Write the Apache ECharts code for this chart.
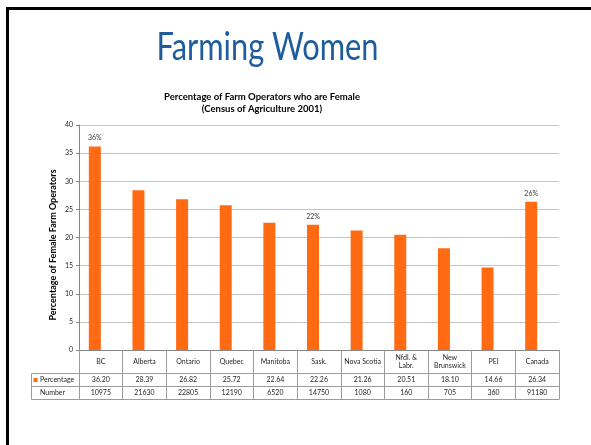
<!DOCTYPE html>
<html>
<head>
<meta charset="utf-8">
<title>Farming Women</title>
<script src="https://cdn.jsdelivr.net/npm/echarts@6/dist/echarts.min.js"></script>
<style>
  html, body { margin: 0; padding: 0; background: #ffffff; }
  #chart { width: 591px; height: 445px; }
</style>
</head>
<body>
<div id="chart"></div>
<script>
// Census of Agriculture 2001: share of farm operators who are female
const categories = ['BC', 'Alberta', 'Ontario', 'Quebec', 'Manitoba', 'Sask.', 'Nova Scotia', 'Nfdl. &\nLabr.', 'New\nBrunswick', 'PEI', 'Canada'];
const percentage = [36.20, 28.39, 26.82, 25.72, 22.64, 22.26, 21.26, 20.51, 18.10, 14.66, 26.34];
const numberOfOperators = [10975, 21630, 22805, 12190, 6520, 14750, 1080, 160, 705, 360, 91180];
const labelledBars = [0, 5, 10];
const yMin = 0, yMax = 40, yStep = 5;

const seriesNames = ['Percentage', 'Number'];
const mainTitle = 'Farming Women';
const chartTitle = 'Percentage of Farm Operators who are Female\n(Census of Agriculture 2001)';
const yName = 'Percentage of Female Farm Operators';

const FONT = 'Lato, "Open Sans", sans-serif';
const BAR = '#FF6A13';
const TEXT = '#262626';
const LINE = '#9b9b9b';

// plot area and table geometry
const G = { left: 79, right: 559, top: 125, bottom: 350 };
const rowY = { header: 361.5, pct: 380, num: 393 };
const tableLines = [373.5, 386.5, 399.5];
const tableLeft = 31.5;

const chart = echarts.init(document.getElementById('chart'), null, { renderer: 'canvas' });

const pctData = percentage.map((v, i) => labelledBars.includes(i)
  ? { value: v, label: { show: true } }
  : v);

const rowAxis = (margin, fmt) => ({
  type: 'category',
  data: categories,
  position: 'bottom',
  gridIndex: 0,
  axisLine: { show: false },
  axisTick: { show: false },
  splitLine: { show: false },
  axisLabel: {
    interval: 0, margin: margin, verticalAlign: 'middle',
    fontFamily: FONT, fontSize: 7, color: TEXT,
    formatter: fmt
  }
});

const graphics = [
  // slide frame
  { type: 'rect', shape: { x: 6, y: 7, width: 585, height: 3 }, style: { fill: '#000' }, silent: true },
  { type: 'rect', shape: { x: 6, y: 7, width: 3, height: 438 }, style: { fill: '#000' }, silent: true },
  // slide heading (condensed horizontally)
  {
    type: 'text', x: 267.5, y: 47.5, scaleX: 0.79, silent: true,
    style: {
      text: mainTitle, fontFamily: FONT, fontSize: 39, fontWeight: 'normal',
      fill: '#1E5C9B', align: 'center', verticalAlign: 'middle'
    }
  },
  // value axis title
  {
    type: 'text', x: 52.7, y: 245, rotation: Math.PI / 2, silent: true,
    style: {
      text: yName, fontFamily: FONT, fontSize: 9, fontWeight: 'bold',
      fill: '#000', align: 'center', verticalAlign: 'middle'
    }
  },
  // data table rules
  { type: 'line', shape: { x1: tableLeft, y1: tableLines[0], x2: G.right, y2: tableLines[0] }, style: { stroke: LINE, lineWidth: 1 }, silent: true },
  { type: 'line', shape: { x1: tableLeft, y1: tableLines[1], x2: G.right, y2: tableLines[1] }, style: { stroke: LINE, lineWidth: 1 }, silent: true },
  { type: 'line', shape: { x1: tableLeft, y1: tableLines[2], x2: G.right, y2: tableLines[2] }, style: { stroke: LINE, lineWidth: 1 }, silent: true },
  { type: 'line', shape: { x1: tableLeft, y1: tableLines[0], x2: tableLeft, y2: tableLines[2] }, style: { stroke: LINE, lineWidth: 1 }, silent: true },
  // row headers
  { type: 'rect', shape: { x: 33.5, y: rowY.pct - 2, width: 4, height: 4 }, style: { fill: BAR }, silent: true },
  {
    type: 'text', x: 40, y: rowY.pct, silent: true,
    style: { text: seriesNames[0], fontFamily: FONT, fontSize: 7, fill: TEXT, align: 'left', verticalAlign: 'middle' }
  },
  {
    type: 'text', x: 40, y: rowY.num, silent: true,
    style: { text: seriesNames[1], fontFamily: FONT, fontSize: 7, fill: TEXT, align: 'left', verticalAlign: 'middle' }
  }
];

chart.setOption({
  backgroundColor: '#ffffff',
  animation: false,
  textStyle: { fontFamily: FONT },
  title: {
    text: chartTitle,
    left: 262, top: 90.5, textAlign: 'center', padding: 0,
    textStyle: { fontFamily: FONT, fontSize: 9.5, fontWeight: 'bold', color: '#000', lineHeight: 12.6 }
  },
  grid: { left: G.left, right: 591 - G.right, top: G.top, bottom: 445 - G.bottom, containLabel: false },
  xAxis: [
    {
      type: 'category',
      data: categories,
      position: 'bottom',
      boundaryGap: true,
      axisLine: { show: true, lineStyle: { color: '#868686', width: 1 } },
      axisTick: { show: true, length: tableLines[2] - G.bottom, lineStyle: { color: LINE, width: 1 } },
      splitLine: { show: false },
      axisLabel: {
        interval: 0, margin: rowY.header - G.bottom, verticalAlign: 'middle',
        fontFamily: FONT, fontSize: 7, lineHeight: 8.5, color: TEXT
      }
    },
    rowAxis(rowY.pct - G.bottom, (v, i) => percentage[i].toFixed(2)),
    rowAxis(rowY.num - G.bottom, (v, i) => String(numberOfOperators[i]))
  ],
  yAxis: [
    {
      type: 'value',
      min: yMin, max: yMax, interval: yStep,
      axisLine: { show: true, lineStyle: { color: '#868686', width: 1 } },
      axisTick: { show: true, length: 3, lineStyle: { color: '#868686' } },
      axisLabel: { fontFamily: FONT, fontSize: 7, color: TEXT, margin: 6 },
      splitLine: { show: true, lineStyle: { color: '#c4c4c4', width: 1 } }
    },
    {
      type: 'value', show: false, min: 0, max: 100000,
      splitLine: { show: false }
    }
  ],
  series: [
    {
      name: seriesNames[0],
      type: 'bar',
      xAxisIndex: 0, yAxisIndex: 0,
      data: pctData,
      barWidth: 12,
      barGap: '0%',
      itemStyle: { color: BAR },
      label: {
        show: false, position: 'top', distance: 5,
        fontFamily: FONT, fontSize: 7, color: '#404040',
        formatter: p => Math.round(p.value) + '%'
      }
    },
    {
      // operator counts share the cluster but stay unfilled, as in the source layout
      name: seriesNames[1],
      type: 'bar',
      xAxisIndex: 0, yAxisIndex: 1,
      data: numberOfOperators,
      barWidth: 12,
      barGap: '0%',
      silent: true,
      itemStyle: { color: 'rgba(0,0,0,0)' },
      label: { show: false }
    }
  ],
  graphic: graphics
});
</script>
</body>
</html>
